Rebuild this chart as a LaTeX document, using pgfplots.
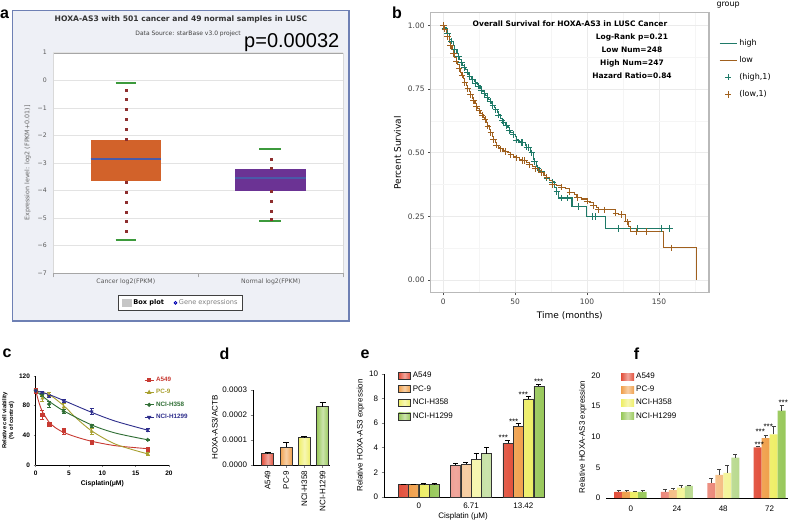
\documentclass[border=0pt]{standalone}
\usepackage{fontspec}
\setmainfont{Liberation Sans}
\newfontfamily\dejavu{DejaVu Sans}
\usepackage{pgfplots}
\usepackage{pgfplotstable}
\pgfplotsset{compat=1.18}
\pgfplotsset{every axis/.append style={/pgf/number format/assume math mode=true}}

\definecolor{frameblue}{HTML}{6E80B4}
\definecolor{panelbg}{HTML}{EEF0F6}
\definecolor{boxorange}{HTML}{D2622A}
\definecolor{boxpurple}{HTML}{6B3394}
\definecolor{medblue}{HTML}{4A5AA8}
\definecolor{whiskgreen}{HTML}{3C9A3C}
\definecolor{dotred}{HTML}{8E2E2E}
\definecolor{kmhigh}{HTML}{1F7A68}
\definecolor{kmlow}{HTML}{A0601E}
\definecolor{cA}{HTML}{C83A32}
\definecolor{cB}{HTML}{A8A030}
\definecolor{cC}{HTML}{2F6E34}
\definecolor{cD}{HTML}{2E2E8C}
\definecolor{bRed}{HTML}{E2503C}
\definecolor{bOrange}{HTML}{F0A04C}
\definecolor{bYellow}{HTML}{EEEE66}
\definecolor{bGreen}{HTML}{98C85A}

\tikzset{
  redbar/.style={left color=bRed, right color=bRed, middle color=bRed!50!white},
  orangebar/.style={left color=bOrange, right color=bOrange, middle color=bOrange!50!white},
  yellowbar/.style={left color=bYellow, right color=bYellow, middle color=bYellow!50!white},
  greenbar/.style={left color=bGreen, right color=bGreen, middle color=bGreen!50!white},
}

% Kaplan-Meier curves: t (months), survival, censored flag
\pgfplotstableread{
t s c
0 1.000 1
1 0.990 1
2 0.978 0
3 0.968 1
4.5 0.945 0
5.5 0.938 1
7 0.922 0
8 0.906 1
9.5 0.890 0
10.5 0.878 1
11.5 0.866 0
12.5 0.855 1
13.5 0.843 0
14.5 0.835 1
15.5 0.826 0
16.5 0.816 1
17.5 0.807 0
18.5 0.800 1
19.5 0.793 0
20.5 0.787 1
21.5 0.780 0
22.5 0.774 1
23.5 0.767 0
24.5 0.762 1
25.5 0.754 0
26.5 0.746 1
27.5 0.740 0
28.5 0.733 1
29.5 0.725 0
30.5 0.717 1
31.5 0.710 0
32.5 0.702 1
33.5 0.694 0
34.5 0.686 1
35.5 0.676 0
36.5 0.668 1
37.5 0.660 0
38.5 0.648 1
40 0.635 0
41 0.625 1
42 0.618 1
43 0.612 0
44 0.607 1
45 0.598 0
46 0.588 1
47 0.580 0
48.5 0.572 1
50 0.562 0
51 0.550 1
52.5 0.545 0
54 0.540 1
55 0.540 1
57 0.530 0
58 0.522 1
59.5 0.520 1
60.5 0.505 0
61.5 0.500 1
62.5 0.472 0
63.5 0.465 1
64.5 0.446 0
65.5 0.440 1
67 0.428 0
68.5 0.425 1
70 0.410 0
72 0.400 1
74 0.392 0
76 0.385 1
77.5 0.365 0
79 0.348 1
80 0.322 0
82 0.322 1
86 0.322 1
89.5 0.288 0
94 0.288 1
99.5 0.250 0
103.5 0.250 1
106 0.250 1
112.5 0.203 0
121.5 0.203 1
135 0.203 1
152 0.203 1
157.5 0.203 1
}\kmhighdata

\pgfplotstableread{
t s c
0 1.000 1
1 0.985 1
2 0.968 0
3 0.955 1
4 0.935 0
5 0.920 1
6 0.905 0
7 0.890 1
8 0.874 0
9 0.860 1
10 0.845 0
11 0.830 1
12 0.815 0
13 0.805 1
14 0.790 0
15 0.775 1
16 0.765 0
17 0.752 1
18 0.740 0
19 0.728 1
20 0.715 0
21 0.705 1
22 0.695 0
23 0.680 1
24 0.672 0
25 0.665 1
26 0.655 0
27 0.648 1
28 0.640 0
29 0.630 1
30 0.620 0
31 0.605 1
32 0.590 0
33 0.578 1
34 0.565 0
35 0.552 1
36 0.540 0
37 0.530 1
38.5 0.520 0
40 0.515 1
41.5 0.510 0
43 0.505 1
45 0.500 0
47 0.492 1
49 0.485 0
51 0.480 1
53 0.475 0
55 0.470 1
56.5 0.470 1
58 0.460 0
60 0.452 1
62 0.445 0
64 0.437 1
66 0.428 0
68 0.422 1
70 0.412 0
72 0.404 1
74 0.390 0
76 0.375 1
79 0.372 0
82 0.365 1
85 0.360 0
88 0.345 1
91 0.335 0
93 0.323 1
96 0.318 0
100 0.310 1
102 0.305 0
104.5 0.293 1
106.5 0.285 0
108 0.276 1
112 0.276 1
118.5 0.276 0
120 0.262 1
122 0.258 0
124 0.258 1
126.5 0.228 0
128 0.228 1
129 0.209 0
130.2 0.190 0
134.5 0.190 1
141.5 0.190 1
153 0.126 0
158.5 0.126 1
176 0.000 0
}\kmlowdata

\begin{document}
\begin{tikzpicture}
\useasboundingbox (0pt,0pt) rectangle (788pt,-523pt);
\fill[white] (0pt,0pt) rectangle (788pt,-523pt);

% ---------------- panel a ----------------
\draw[frameblue, line width=1.2pt, fill=panelbg] (12.7pt,-10.7pt) rectangle (349pt,-321pt);
\begin{axis}[
  at={(53.3pt,-273.3pt)}, anchor=south west,
  scale only axis, width=290pt, height=220.6pt,
  xmin=0, xmax=2, ymin=-7, ymax=1,
  axis background/.style={fill=white},
  separate axis lines,
  x axis line style={draw=gray!70},
  y axis line style={draw=gray!30},
  ymajorgrids, grid style={draw=gray!22, line width=0.5pt},
  ytick={-7,-6,...,1},
  yticklabels={−7,−6,−5,−4,−3,−2,−1,0,1},
  xtick={0.5,1.5},
  xticklabels={Cancer log2(FPKM),Normal log2(FPKM)},
  major tick length=0pt,
  extra x ticks={0,1,2},
  extra x tick labels={,,},
  extra x tick style={grid=none, major tick length=4pt, tick align=outside, tick style={draw=gray!70}},
  xtick pos=bottom, ytick pos=left,
  ticklabel style={font=\dejavu\fontsize{6.2}{7}\selectfont, text=black!65},
  yticklabel style={xshift=-3pt},
  xticklabel style={yshift=-2pt},
  ylabel={Expression level: log2 (FPKM+0.01)]},
  ylabel style={font=\dejavu\fontsize{6.3}{7}\selectfont, text=black!60},
  legend columns=2,
  legend style={at={(0.4386,-0.134)}, anchor=center, draw=black!75, line width=0.8pt,
    fill=white, font=\dejavu\fontsize{6.6}{8}\selectfont,
    /tikz/every even column/.append style={column sep=8pt}},
]
\addplot[fill=boxorange, draw=none, forget plot] coordinates {(0.258,-3.65) (0.743,-3.65) (0.743,-2.18) (0.258,-2.18)} -- cycle;
\addplot[fill=boxpurple, draw=none, forget plot] coordinates {(1.253,-4.0) (1.743,-4.0) (1.743,-3.22) (1.253,-3.22)} -- cycle;
\addplot[medblue, line width=1.8pt, forget plot] coordinates {(0.258,-2.85) (0.743,-2.85)};
\addplot[medblue, line width=1.8pt, forget plot] coordinates {(1.253,-3.55) (1.743,-3.55)};
\addplot[whiskgreen, line width=1.8pt, forget plot] coordinates {(0.43,-0.1) (0.57,-0.1)};
\addplot[whiskgreen, line width=1.8pt, forget plot] coordinates {(0.43,-5.8) (0.57,-5.8)};
\addplot[whiskgreen, line width=1.8pt, forget plot] coordinates {(1.42,-2.5) (1.57,-2.5)};
\addplot[whiskgreen, line width=1.8pt, forget plot] coordinates {(1.42,-5.1) (1.57,-5.1)};
\addplot[only marks, mark=square*, mark size=1pt, dotred, forget plot] coordinates {
  (0.5,-0.35) (0.5,-0.7) (0.5,-1.05) (0.5,-1.42) (0.5,-1.78) (0.5,-2.15)
  (0.5,-3.68) (0.5,-4.05) (0.5,-4.42) (0.5,-4.78) (0.5,-5.12) (0.5,-5.48)
  (1.5,-2.85) (1.5,-3.2) (1.5,-4.02) (1.5,-4.38) (1.5,-4.73) (1.5,-5.05)};
\addlegendimage{legend image code/.code={\fill[gray!45] (0pt,-3.5pt) rectangle (9pt,3.5pt);}}
\addlegendentry{\textbf{Box plot}}
\addlegendimage{only marks, mark=o, mark size=1.4pt, blue!70!black}
\addlegendentry{\textcolor{gray}{Gene expressions}}
\end{axis}
\node[font=\dejavu\bfseries\fontsize{7.6}{9}\selectfont, text=black!80] at (181pt,-19pt) {HOXA-AS3 with 501 cancer and 49 normal samples in LUSC};
\node[font=\dejavu\fontsize{6}{7}\selectfont, anchor=east, text=black!75, inner sep=0pt] at (241pt,-34pt) {Data Source: starBase v3.0 project};
\node[font=\fontsize{20}{22}\selectfont, anchor=base west, inner sep=0pt] at (244pt,-47.3pt) {p=0.00032};

% ---------------- panel b ----------------
\begin{axis}[
  at={(430.7pt,-292.7pt)}, anchor=south west,
  scale only axis, width=278.3pt, height=280pt,
  xmin=-8.8, xmax=184.8, ymin=-0.05, ymax=1.05,
  xtick={0,50,100,150}, ytick={0,0.25,0.5,0.75,1},
  minor xtick={25,75,125,175}, minor ytick={0.125,0.375,0.625,0.875},
  grid=both, major grid style={draw=gray!16, line width=0.5pt}, minor grid style={draw=gray!8, line width=0.4pt},
  axis line style={draw=gray!55, line width=1.2pt},
  xtick pos=bottom, ytick pos=left,
  tick align=outside, major tick length=2.5pt, minor tick length=0pt,
  tick style={draw=gray!60!black, line width=0.6pt},
  yticklabel style={/pgf/number format/.cd, fixed, fixed zerofill, precision=2},
  ticklabel style={font=\dejavu\fontsize{7.5}{9}\selectfont, text=black!75},
  xlabel={Time (months)}, ylabel={Percent Survival},
  label style={font=\dejavu\fontsize{9}{11}\selectfont},
  legend style={at={(1.025,0.92)}, anchor=north west, draw=none, fill=none,
    font=\dejavu\fontsize{8}{10}\selectfont, row sep=5.5pt},
  legend cell align=left,
]
\addplot[const plot, kmhigh, line width=1.1pt] table[x=t, y=s] {\kmhighdata};
\addlegendentry{high}
\addplot[const plot, kmlow, line width=1.1pt] table[x=t, y=s] {\kmlowdata};
\addlegendentry{low}
\addplot[only marks, mark=+, mark size=3.2pt, kmhigh, mark options={line width=0.9pt},
  restrict expr to domain={\thisrow{c}}{1:1}] table[x=t, y=s] {\kmhighdata};
\addlegendentry{(high,1)}
\addplot[only marks, mark=+, mark size=3.2pt, kmlow, mark options={line width=0.9pt},
  restrict expr to domain={\thisrow{c}}{1:1}] table[x=t, y=s] {\kmlowdata};
\addlegendentry{(low,1)}
\end{axis}
\node[font=\dejavu\fontsize{8}{10}\selectfont, anchor=west] at (713pt,-5pt) {group};
\begin{scope}[font=\dejavu\bfseries\fontsize{7.5}{9}\selectfont]
\node at (570pt,-24pt) {Overall Survival for HOXA-AS3 in LUSC Cancer};
\node at (632pt,-37pt) {Log-Rank p=0.21};
\node at (632pt,-50pt) {Low Num=248};
\node at (632pt,-63pt) {High Num=247};
\node at (632pt,-76pt) {Hazard Ratio=0.84};
\end{scope}

% ---------------- panel c ----------------
\begin{axis}[
  at={(35.7pt,-465pt)}, anchor=south west,
  scale only axis, width=133.3pt, height=89pt,
  xmin=0, xmax=20, ymin=0, ymax=120,
  axis lines=left, axis line style={-, line width=0.8pt},
  xtick={0,5,...,20}, ytick={0,40,80,120},
  tick align=outside, major tick length=2.2pt, tick style={line width=0.8pt},
  ticklabel style={font=\bfseries\fontsize{6.5}{7}\selectfont},
  xlabel={Cisplatin(μM)}, xlabel style={font=\bfseries\fontsize{6.8}{7}\selectfont, yshift=2pt},
  ylabel={Relative cell viability\\(\% of control)},
  ylabel style={font=\bfseries\fontsize{5.8}{6.8}\selectfont, align=center, yshift=-2pt},
  clip=false,
  legend style={at={(0.79,1.035)}, anchor=north west, draw=none, fill=none,
    font=\bfseries\fontsize{6.3}{7}\selectfont, row sep=2.5pt},
  legend cell align=left,
  legend image code/.code={\draw[mark repeat=2, mark phase=2, #1] plot coordinates {(0pt,0pt) (4.5pt,0pt) (9pt,0pt)};},
]
\addplot[cA, line width=0.9pt, smooth, forget plot] coordinates {(0,100) (0.5,84) (1,72) (2,58) (3,50) (4.2,44) (6,38) (8.4,32) (12,26) (16.8,22)};
\addplot[cB, line width=0.9pt, smooth, forget plot] coordinates {(0,100) (2,95) (4.2,80) (6,64) (8.4,46) (12,28) (16.8,15)};
\addplot[cC, line width=0.9pt, smooth, forget plot] coordinates {(0,100) (2,86) (4.2,73) (8.4,54) (12,43) (16.8,34)};
\addplot[cD, line width=0.9pt, smooth, forget plot] coordinates {(0,100) (2,95) (4.2,87) (8.4,71) (12,59) (16.8,47)};
\pgfplotsset{cerr/.style={only marks, mark size=1.8pt, forget plot,
  error bars/.cd, y dir=both, y explicit, error bar style={line width=0.7pt},
  error mark options={rotate=90, mark size=2pt, line width=0.7pt}}}
\addplot[cA, mark=square*, cerr] coordinates {(0,100)+-(0,3) (1,68)+-(0,6) (2,55)+-(0,3) (4.2,46)+-(0,4) (8.4,31)+-(0,1.5) (16.8,21)+-(0,3)};
\addplot[cB, mark=triangle*, cerr] coordinates {(0,100)+-(0,2) (1,90)+-(0,4) (2,95)+-(0,3) (4.2,78)+-(0,5) (8.4,45)+-(0,4) (16.8,15)+-(0,2)};
\addplot[cC, mark=*, cerr] coordinates {(0,100)+-(0,2) (1,95)+-(0,2) (2,82)+-(0,4) (4.2,72)+-(0,3) (8.4,53)+-(0,2) (16.8,34)+-(0,1)};
\addplot[cD, mark=triangle*, mark options={rotate=180}, cerr] coordinates {(0,100)+-(0,1) (1,98)+-(0,1.5) (2,93)+-(0,2) (4.2,86)+-(0,2) (8.4,72)+-(0,4) (16.8,47)+-(0,2)};
\addlegendimage{cA, line width=0.9pt, mark=square*, mark size=1.6pt}
\addlegendentry{\textcolor{cA}{A549}}
\addlegendimage{cB, line width=0.9pt, mark=triangle*, mark size=1.8pt}
\addlegendentry{\textcolor{cB}{PC-9}}
\addlegendimage{cC, line width=0.9pt, mark=*, mark size=1.6pt}
\addlegendentry{\textcolor{cC}{NCI-H358}}
\addlegendimage{cD, line width=0.9pt, mark=triangle*, mark size=1.8pt, mark options={rotate=180}}
\addlegendentry{\textcolor{cD}{NCI-H1299}}
\end{axis}

% ---------------- panel d ----------------
\begin{axis}[
  at={(253pt,-465pt)}, anchor=south west,
  scale only axis, width=77pt, height=75pt,
  xmin=-0.8, xmax=3.4, ymin=0, ymax=0.0003,
  axis lines=left, axis line style={-, line width=0.7pt},
  ytick={0,0.0001,0.0002,0.0003}, scaled y ticks=false,
  yticklabel style={/pgf/number format/.cd, fixed, fixed zerofill, precision=4},
  xtick={0,1,2,3}, xticklabels={A549,PC-9,NCI-H358,NCI-H1299},
  xticklabel style={rotate=90, anchor=east},
  tick align=outside, major tick length=2.5pt, tick style={line width=0.7pt},
  ticklabel style={font=\fontsize{8}{9}\selectfont},
  ylabel={HOXA-AS3/ACTB}, ylabel style={font=\fontsize{8}{9}\selectfont, yshift=-2pt},
]
\pgfplotsset{derr/.style={ybar, bar width=12pt, bar shift=0pt, draw=black!80, line width=0.6pt,
  error bars/.cd, y dir=plus, y explicit, error bar style={black, line width=0.7pt},
  error mark options={rotate=90, mark size=3pt, black, line width=0.7pt}}}
\addplot[redbar, derr] coordinates {(0,0.000045)+-(0,0.000005)};
\addplot[orangebar, derr] coordinates {(1,0.000071)+-(0,0.000018)};
\addplot[yellowbar, derr] coordinates {(2,0.000109)+-(0,0.000007)};
\addplot[greenbar, derr] coordinates {(3,0.000233)+-(0,0.000018)};
\end{axis}

% ---------------- panel e ----------------
\begin{axis}[
  at={(384pt,-497pt)}, anchor=south west,
  scale only axis, width=158pt, height=123pt,
  xmin=-0.665, xmax=2.356, ymin=0, ymax=10,
  axis lines=left, axis line style={-, line width=0.7pt},
  ybar=0.3pt, bar width=10pt,
  xtick={0,1,2}, xticklabels={0,6.71,13.42}, xtick style={draw=none},
  ytick={0,2,...,10},
  tick align=outside, major tick length=2.5pt, tick style={line width=0.7pt},
  ticklabel style={font=\fontsize{8}{9}\selectfont},
  xlabel={Cisplatin (μM)}, xlabel style={font=\fontsize{8}{9}\selectfont, yshift=3pt},
  ylabel={Relative HOXA-AS3 expression}, ylabel style={font=\fontsize{8}{9}\selectfont, yshift=-2pt},
  clip=false,
  legend style={at={(0.07,1.05)}, anchor=north west, draw=none, fill=none,
    font=\fontsize{8}{9}\selectfont, row sep=2.5pt},
  legend cell align=left,
  legend image code/.code={\draw[#1, line width=0.6pt] (0pt,-3.5pt) rectangle (12pt,3.5pt);},
]
\pgfplotsset{eerr/.style={draw=black!80, line width=0.6pt,
  error bars/.cd, y dir=plus, y explicit, error bar style={black, line width=0.7pt},
  error mark options={rotate=90, mark size=2.5pt, black, line width=0.7pt}}}
\addplot[redbar, eerr] coordinates {(0,1.0)+-(0,0.05) (1,2.6)+-(0,0.15) (2,4.39)+-(0,0.2)};
\addlegendentry{A549}
\addplot[orangebar, eerr] coordinates {(0,1.0)+-(0,0.04) (1,2.68)+-(0,0.14) (2,5.75)+-(0,0.27)};
\addlegendentry{PC-9}
\addplot[yellowbar, eerr] coordinates {(0,1.02)+-(0,0.05) (1,3.09)+-(0,0.43) (2,7.97)+-(0,0.21)};
\addlegendentry{NCI-H358}
\addplot[greenbar, eerr] coordinates {(0,1.02)+-(0,0.06) (1,3.52)+-(0,0.5) (2,9.0)+-(0,0.16)};
\addlegendentry{NCI-H1299}
\begin{scope}[every node/.style={font=\fontsize{8}{9}\selectfont, inner sep=0pt}]
\node[xshift=-20pt] at (axis cs:2,4.85) {***};
\node[xshift=-9.7pt] at (axis cs:2,6.13) {***};
\node[xshift=0pt] at (axis cs:2,8.3) {***};
\node[xshift=15.3pt] at (axis cs:2,9.38) {***};
\end{scope}
\end{axis}

% ---------------- panel f ----------------
\begin{axis}[
  at={(606pt,-498pt)}, anchor=south west,
  scale only axis, width=182pt, height=122.3pt,
  xmin=-0.535, xmax=3.40, ymin=0, ymax=20,
  axis x line=bottom, axis y line=left,
  x axis line style={-, line width=0.7pt}, y axis line style={draw=none},
  ybar=0pt, bar width=8pt,
  xtick={0,1,2,3}, xticklabels={0,24,48,72}, xtick style={draw=none},
  ytick={0,5,...,20}, ytick style={draw=none},
  ticklabel style={font=\fontsize{8}{9}\selectfont},
  ylabel={Relative HOXA-AS3 expression}, ylabel style={font=\fontsize{8}{9}\selectfont, yshift=-2pt},
  clip=false,
  legend style={at={(0.066,1.055)}, anchor=north west, draw=none, fill=none,
    font=\fontsize{8}{9}\selectfont, row sep=2pt},
  legend cell align=left,
  legend image code/.code={\fill[#1] (0pt,-3.5pt) rectangle (13pt,3.5pt);},
]
\pgfplotsset{ferr/.style={draw=none,
  error bars/.cd, y dir=plus, y explicit, error bar style={black!75, line width=0.6pt},
  error mark options={rotate=90, mark size=2pt, black!75, line width=0.6pt}}}
\addplot[redbar, ferr] coordinates {(0,1.0)+-(0,0.25) (1,1.0)+-(0,0.35) (2,2.45)+-(0,0.7) (3,8.3)+-(0,0.15)};
\addlegendentry{A549}
\addplot[orangebar, ferr] coordinates {(0,1.05)+-(0,0.2) (1,1.3)+-(0,0.35) (2,3.8)+-(0,0.9) (3,9.8)+-(0,0.5)};
\addlegendentry{PC-9}
\addplot[yellowbar, ferr] coordinates {(0,1.0)+-(0,0.15) (1,1.7)+-(0,0.3) (2,4.1)+-(0,1.2) (3,10.4)+-(0,1.3)};
\addlegendentry{NCI-H358}
\addplot[greenbar, ferr] coordinates {(0,1.0)+-(0,0.2) (1,2.0)+-(0,0.1) (2,6.6)+-(0,0.6) (3,14.3)+-(0,0.8)};
\addlegendentry{NCI-H1299}
\begin{scope}[every node/.style={font=\fontsize{8}{9}\selectfont, inner sep=0pt}]
\node[xshift=-10.3pt] at (axis cs:3,8.7) {***};
\node[xshift=-9.3pt] at (axis cs:3,10.8) {***};
\node[xshift=-1.3pt] at (axis cs:3,11.6) {***};
\node[xshift=13.7pt] at (axis cs:3,15.6) {***};
\end{scope}
\end{axis}

% panel letters
\begin{scope}[every node/.style={font=\bfseries\fontsize{16}{16}\selectfont, inner sep=0pt}]
\node at (4.5pt,-14pt) {a};
\node at (397pt,-12.5pt) {b};
\node at (7pt,-353.5pt) {c};
\node at (224.5pt,-353.5pt) {d};
\node at (365pt,-354pt) {e};
\node at (636.5pt,-354pt) {f};
\end{scope}
\end{tikzpicture}
\end{document}
